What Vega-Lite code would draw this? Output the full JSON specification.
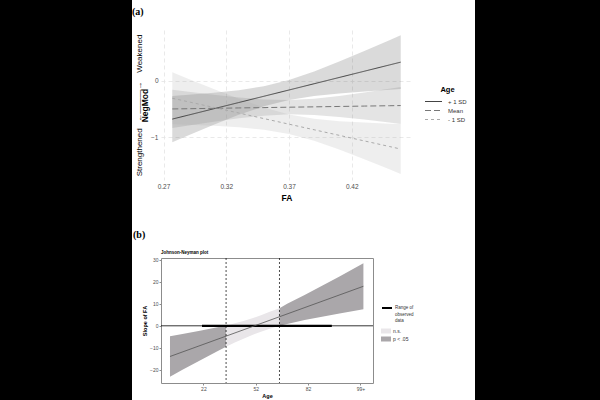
{
  "$schema": "https://vega.github.io/schema/vega-lite/v6.json",
  "background": "white",
  "padding": 0,
  "spacing": 0,
  "config": {
    "font": "Liberation Sans",
    "view": {"stroke": null},
    "axis": {"labelFont": "Liberation Sans", "titleFont": "Liberation Sans", "labelOverlap": false},
    "legend": {"labelFont": "Liberation Sans", "titleFont": "Liberation Sans"}
  },
  "datasets": {
    "fa_fit": [
      {"FA": 0.277, "Age": "+ 1 SD", "fit": -0.680, "lo": -1.090, "hi": -0.270},
      {"FA": 0.290, "Age": "+ 1 SD", "fit": -0.608, "lo": -0.966, "hi": -0.250},
      {"FA": 0.310, "Age": "+ 1 SD", "fit": -0.497, "lo": -0.780, "hi": -0.214},
      {"FA": 0.330, "Age": "+ 1 SD", "fit": -0.386, "lo": -0.605, "hi": -0.167},
      {"FA": 0.350, "Age": "+ 1 SD", "fit": -0.275, "lo": -0.454, "hi": -0.096},
      {"FA": 0.370, "Age": "+ 1 SD", "fit": -0.164, "lo": -0.343, "hi": 0.015},
      {"FA": 0.390, "Age": "+ 1 SD", "fit": -0.053, "lo": -0.272, "hi": 0.166},
      {"FA": 0.410, "Age": "+ 1 SD", "fit": 0.058, "lo": -0.225, "hi": 0.341},
      {"FA": 0.430, "Age": "+ 1 SD", "fit": 0.169, "lo": -0.189, "hi": 0.527},
      {"FA": 0.450, "Age": "+ 1 SD", "fit": 0.280, "lo": -0.158, "hi": 0.718},
      {"FA": 0.459, "Age": "+ 1 SD", "fit": 0.330, "lo": -0.145, "hi": 0.805},
      {"FA": 0.277, "Age": "Mean", "fit": -0.500, "lo": -0.840, "hi": -0.160},
      {"FA": 0.290, "Age": "Mean", "fit": -0.496, "lo": -0.795, "hi": -0.197},
      {"FA": 0.310, "Age": "Mean", "fit": -0.489, "lo": -0.729, "hi": -0.249},
      {"FA": 0.330, "Age": "Mean", "fit": -0.482, "lo": -0.667, "hi": -0.297},
      {"FA": 0.350, "Age": "Mean", "fit": -0.476, "lo": -0.620, "hi": -0.332},
      {"FA": 0.370, "Age": "Mean", "fit": -0.469, "lo": -0.595, "hi": -0.343},
      {"FA": 0.390, "Age": "Mean", "fit": -0.463, "lo": -0.607, "hi": -0.319},
      {"FA": 0.410, "Age": "Mean", "fit": -0.456, "lo": -0.641, "hi": -0.271},
      {"FA": 0.430, "Age": "Mean", "fit": -0.449, "lo": -0.689, "hi": -0.209},
      {"FA": 0.450, "Age": "Mean", "fit": -0.443, "lo": -0.742, "hi": -0.144},
      {"FA": 0.459, "Age": "Mean", "fit": -0.440, "lo": -0.767, "hi": -0.113},
      {"FA": 0.277, "Age": "- 1 SD", "fit": -0.310, "lo": -0.770, "hi": 0.150},
      {"FA": 0.290, "Age": "- 1 SD", "fit": -0.374, "lo": -0.779, "hi": 0.031},
      {"FA": 0.310, "Age": "- 1 SD", "fit": -0.473, "lo": -0.798, "hi": -0.148},
      {"FA": 0.330, "Age": "- 1 SD", "fit": -0.572, "lo": -0.824, "hi": -0.320},
      {"FA": 0.350, "Age": "- 1 SD", "fit": -0.671, "lo": -0.867, "hi": -0.475},
      {"FA": 0.370, "Age": "- 1 SD", "fit": -0.770, "lo": -0.943, "hi": -0.597},
      {"FA": 0.390, "Age": "- 1 SD", "fit": -0.869, "lo": -1.065, "hi": -0.673},
      {"FA": 0.410, "Age": "- 1 SD", "fit": -0.968, "lo": -1.220, "hi": -0.716},
      {"FA": 0.430, "Age": "- 1 SD", "fit": -1.067, "lo": -1.392, "hi": -0.742},
      {"FA": 0.450, "Age": "- 1 SD", "fit": -1.166, "lo": -1.571, "hi": -0.761},
      {"FA": 0.459, "Age": "- 1 SD", "fit": -1.211, "lo": -1.654, "hi": -0.768}
    ],
    "jn_band": [
      {"Age": 2.85, "lo": -23.05, "hi": -4.75, "sig": "p < .05", "seg": "low"},
      {"Age": 10, "lo": -19.95, "hi": -3.75, "sig": "p < .05", "seg": "low"},
      {"Age": 20, "lo": -15.67, "hi": -2.29, "sig": "p < .05", "seg": "low"},
      {"Age": 30, "lo": -11.52, "hi": -0.70, "sig": "p < .05", "seg": "low"},
      {"Age": 35, "lo": -9.45, "hi": 0, "sig": "p < .05", "seg": "low"},
      {"Age": 35, "lo": -9.45, "hi": 0, "sig": "n.s.", "seg": "mid"},
      {"Age": 40, "lo": -7.61, "hi": 1.13, "sig": "n.s.", "seg": "mid"},
      {"Age": 45, "lo": -5.81, "hi": 2.21, "sig": "n.s.", "seg": "mid"},
      {"Age": 50, "lo": -4.15, "hi": 3.41, "sig": "n.s.", "seg": "mid"},
      {"Age": 55, "lo": -2.66, "hi": 4.80, "sig": "n.s.", "seg": "mid"},
      {"Age": 60, "lo": -1.36, "hi": 6.36, "sig": "n.s.", "seg": "mid"},
      {"Age": 65.6, "lo": 0, "hi": 7.9, "sig": "n.s.", "seg": "mid"},
      {"Age": 65.6, "lo": 0, "hi": 7.9, "sig": "p < .05", "seg": "high"},
      {"Age": 70, "lo": 0.81, "hi": 9.93, "sig": "p < .05", "seg": "high"},
      {"Age": 80, "lo": 2.58, "hi": 13.90, "sig": "p < .05", "seg": "high"},
      {"Age": 90, "lo": 4.14, "hi": 18.08, "sig": "p < .05", "seg": "high"},
      {"Age": 100, "lo": 5.58, "hi": 22.38, "sig": "p < .05", "seg": "high"},
      {"Age": 113.7, "lo": 7.45, "hi": 28.35, "sig": "p < .05", "seg": "high"}
    ],
    "jn_fit": [
      {"Age": 2.85, "slope": -13.9},
      {"Age": 113.7, "slope": 17.9}
    ],
    "jn_observed": [
      {"from": 21.2, "to": 95.6, "slope": 0, "label": "Range of|observed|data"}
    ],
    "jn_bounds": [
      {"Age": 35.0},
      {"Age": 65.6}
    ],
    "zero_line": [
      {"slope": 0}
    ]
  },
  "hconcat": [
    {
      "width": 132,
      "height": 400,
      "view": {"fill": "black", "stroke": null},
      "data": {"values": [{}]},
      "mark": {"type": "point", "opacity": 0},
      "encoding": {}
    },
    {
      "spacing": 0,
      "align": "none",
      "resolve": {"scale": {"x": "independent", "y": "independent", "fill": "independent", "stroke": "independent", "strokeDash": "independent"}},
      "vconcat": [
        {
          "width": 10,
          "height": 7,
          "data": {"values": [{}]},
          "mark": {"type": "point", "opacity": 0},
          "encoding": {}
        },
        {
          "spacing": 27,
          "align": "none",
          "resolve": {"scale": {"x": "independent", "y": "independent", "fill": "independent", "stroke": "independent", "strokeDash": "independent"}},
          "vconcat": [
            {
              "title": {"text": "(a)", "anchor": "start", "frame": "bounds", "font": "Liberation Serif", "fontSize": 10, "fontWeight": "bold", "color": "black", "offset": 13, "dx": -3},
              "width": 251,
              "height": 150,
              "data": {"name": "fa_fit"},
              "encoding": {
                "x": {
                  "field": "FA",
                  "type": "quantitative",
                  "scale": {"domain": [0.268, 0.468], "nice": false, "zero": false},
                  "axis": {
                    "values": [0.27, 0.32, 0.37, 0.42],
                    "tickCount": 10,
                    "format": ".2f",
                    "title": "FA",
                    "titleFontWeight": "bold",
                    "titleFontSize": 8.5,
                    "titleColor": "black",
                    "titlePadding": 4,
                    "labelFontSize": 6.5,
                    "labelColor": "#4d4d4d",
                    "labelPadding": 3,
                    "ticks": false,
                    "domain": false,
                    "grid": true,
                    "gridDash": [4, 3],
                    "gridColor": "#e3e3e3",
                    "gridWidth": 0.8
                  }
                }
              },
              "layer": [
                {
                  "mark": {"type": "area", "opacity": 0.2},
                  "encoding": {
                    "y": {
                      "field": "lo",
                      "type": "quantitative",
                      "scale": {"domain": [-1.76, 0.9], "nice": false, "zero": false},
                      "axis": {
                        "orient": "left",
                        "values": [0, -1],
                        "title": "NegMod",
                        "titleFontWeight": "bold",
                        "titleFontSize": 8.5,
                        "titleColor": "black",
                        "titlePadding": 1,
                        "labelFontSize": 6.5,
                        "labelColor": "#4d4d4d",
                        "labelPadding": 3,
                        "ticks": false,
                        "domain": false,
                        "grid": true,
                        "gridDash": [4, 3],
                        "gridColor": "#e3e3e3",
                        "gridWidth": 0.8
                      }
                    },
                    "y2": {"field": "hi"},
                    "fill": {
                      "field": "Age",
                      "type": "nominal",
                      "scale": {"domain": ["+ 1 SD", "Mean", "- 1 SD"], "range": ["#444444", "#777777", "#aaaaaa"]},
                      "legend": {
                        "title": "Age",
                        "orient": "none",
                        "legendX": 266.5,
                        "legendY": 56,
                        "titleAnchor": "middle",
                        "titleFontSize": 7.5,
                        "titleFontWeight": "bold",
                        "titleColor": "black",
                        "titlePadding": 2,
                        "labelFontSize": 6,
                        "labelColor": "#333333",
                        "labelOffset": 8.5,
                        "symbolType": "M-1.7,0L1.7,0",
                        "symbolSize": 100,
                        "symbolStrokeWidth": 1.2,
                        "symbolOpacity": 1,
                        "rowPadding": 0
                      }
                    }
                  }
                },
                {
                  "mark": {"type": "line", "strokeWidth": 1},
                  "encoding": {
                    "y": {
                      "field": "fit",
                      "type": "quantitative",
                      "axis": {
                        "orient": "left",
                        "offset": 17,
                        "title": "Strengthened\u00a0\u00a0\u00a0\u2190\u2014\u2014\u2014\u2192\u00a0\u00a0\u00a0\u00a0Weakened\u00a0\u00a0\u00a0\u00a0\u00a0\u00a0\u00a0\u00a0\u00a0\u00a0\u00a0",
                        "titleFontWeight": "normal",
                        "titleFontSize": 8,
                        "titleColor": "black",
                        "titlePadding": 1,
                        "labels": false,
                        "ticks": false,
                        "domain": false,
                        "grid": false
                      }
                    },
                    "stroke": {
                      "field": "Age",
                      "type": "nominal",
                      "scale": {"domain": ["+ 1 SD", "Mean", "- 1 SD"], "range": ["#444444", "#777777", "#aaaaaa"]},
                      "legend": {
                        "title": "Age",
                        "orient": "none",
                        "legendX": 266.5,
                        "legendY": 56,
                        "titleAnchor": "middle",
                        "titleFontSize": 7.5,
                        "titleFontWeight": "bold",
                        "titleColor": "black",
                        "titlePadding": 2,
                        "labelFontSize": 6,
                        "labelColor": "#333333",
                        "labelOffset": 8.5,
                        "symbolType": "M-1.7,0L1.7,0",
                        "symbolSize": 100,
                        "symbolStrokeWidth": 1.2,
                        "symbolOpacity": 1,
                        "rowPadding": 0
                      }
                    },
                    "strokeDash": {
                      "field": "Age",
                      "type": "nominal",
                      "scale": {"domain": ["+ 1 SD", "Mean", "- 1 SD"], "range": [[1, 0], [6, 3], [3, 3]]},
                      "legend": {
                        "title": "Age",
                        "orient": "none",
                        "legendX": 266.5,
                        "legendY": 56,
                        "titleAnchor": "middle",
                        "titleFontSize": 7.5,
                        "titleFontWeight": "bold",
                        "titleColor": "black",
                        "titlePadding": 2,
                        "labelFontSize": 6,
                        "labelColor": "#333333",
                        "labelOffset": 8.5,
                        "symbolType": "M-1.7,0L1.7,0",
                        "symbolSize": 100,
                        "symbolStrokeWidth": 1.2,
                        "symbolOpacity": 1,
                        "rowPadding": 0
                      }
                    }
                  }
                }
              ],
              "resolve": {"axis": {"y": "independent"}}
            },
            {
              "title": {"text": "(b)", "anchor": "start", "frame": "bounds", "font": "Liberation Serif", "fontSize": 10, "fontWeight": "bold", "color": "black", "offset": 10, "dx": -9},
              "vconcat": [
                {
                  "title": {"text": "Johnson-Neyman plot", "anchor": "start", "frame": "group", "fontSize": 4.5, "fontWeight": "bold", "color": "black", "offset": 3},
                  "width": 212,
                  "height": 125,
                  "view": {"stroke": "#8c8c8c", "strokeWidth": 1},
                  "layer": [
                    {
                      "data": {"name": "jn_band"},
                      "mark": {"type": "area"},
                      "encoding": {
                        "x": {
                          "field": "Age",
                          "type": "quantitative",
                          "scale": {"domain": [-2.3, 119.2], "nice": false, "zero": false},
                          "axis": {
                            "values": [22, 52, 82, 112],
                            "tickCount": 10,
                            "labelExpr": "datum.value == 112 ? '99+' : datum.label",
                            "title": "Age",
                            "titleFontSize": 5.5,
                            "titleFontWeight": "bold",
                            "titleColor": "black",
                            "titlePadding": 2,
                            "labelFontSize": 5,
                            "labelColor": "#4d4d4d",
                            "labelPadding": 1,
                            "tickSize": 2,
                            "tickColor": "#8c8c8c",
                            "domain": false,
                            "grid": false
                          }
                        },
                        "y": {
                          "field": "lo",
                          "type": "quantitative",
                          "scale": {"domain": [-25.9, 30.7], "nice": false, "zero": false},
                          "axis": {
                            "values": [-20, -10, 0, 10, 20, 30],
                            "tickCount": 10,
                            "title": "Slope of FA",
                            "titleFontSize": 5.5,
                            "titleFontWeight": "bold",
                            "titleColor": "black",
                            "titlePadding": 2,
                            "labelFontSize": 5,
                            "labelColor": "#4d4d4d",
                            "labelPadding": 1,
                            "tickSize": 2,
                            "tickColor": "#8c8c8c",
                            "domain": false,
                            "grid": false
                          }
                        },
                        "y2": {"field": "hi"},
                        "detail": {"field": "seg"},
                        "fill": {
                          "field": "sig",
                          "type": "nominal",
                          "scale": {"domain": ["n.s.", "p < .05"], "range": ["#e9e6e9", "#aaa7aa"]},
                          "legend": {
                            "title": null,
                            "orient": "none",
                            "legendX": 220,
                            "legendY": 68,
                            "symbolType": "M-1,-0.5L1,-0.5L1,0.5L-1,0.5Z",
                            "symbolSize": 100,
                            "symbolStrokeWidth": 0,
                            "labelFontSize": 5,
                            "labelColor": "#333333",
                            "labelOffset": 2,
                            "rowPadding": -3
                          }
                        }
                      }
                    },
                    {
                      "data": {"name": "zero_line"},
                      "mark": {"type": "rule", "color": "black", "strokeWidth": 0.8},
                      "encoding": {"y": {"field": "slope", "type": "quantitative"}}
                    },
                    {
                      "data": {"name": "jn_observed"},
                      "mark": {"type": "rule", "strokeWidth": 2.2},
                      "encoding": {
                        "x": {"field": "from", "type": "quantitative"},
                        "x2": {"field": "to"},
                        "y": {"field": "slope", "type": "quantitative"},
                        "stroke": {
                          "field": "label",
                          "type": "nominal",
                          "scale": {"range": ["black"]},
                          "legend": {
                            "title": null,
                            "orient": "none",
                            "legendX": 220,
                            "legendY": 44,
                            "symbolType": "stroke",
                            "symbolSize": 100,
                            "symbolStrokeWidth": 2,
                            "labelFontSize": 4.5,
                            "labelColor": "#333333",
                            "labelOffset": 2,
                            "labelExpr": "split(datum.label, '|')"
                          }
                        }
                      }
                    },
                    {
                      "data": {"name": "jn_fit"},
                      "mark": {"type": "line", "color": "#555555", "strokeWidth": 0.8},
                      "encoding": {
                        "x": {"field": "Age", "type": "quantitative"},
                        "y": {"field": "slope", "type": "quantitative"}
                      }
                    },
                    {
                      "data": {"name": "jn_bounds"},
                      "mark": {"type": "rule", "color": "black", "strokeDash": [2, 2], "strokeWidth": 0.7},
                      "encoding": {"x": {"field": "Age", "type": "quantitative"}}
                    }
                  ]
                }
              ]
            }
          ]
        }
      ]
    },
    {
      "width": 3,
      "height": 400,
      "data": {"values": [{}]},
      "mark": {"type": "point", "opacity": 0},
      "encoding": {}
    },
    {
      "width": 130,
      "height": 400,
      "view": {"fill": "black", "stroke": null},
      "data": {"values": [{}]},
      "mark": {"type": "point", "opacity": 0},
      "encoding": {}
    }
  ]
}
